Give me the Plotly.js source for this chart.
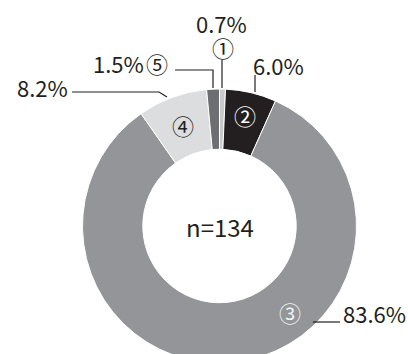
<!DOCTYPE html>
<html><head><meta charset="utf-8">
<script src="https://cdn.plot.ly/plotly-3.0.1.min.js"></script>
<style>html,body{margin:0;padding:0;width:408px;height:354px;overflow:hidden;background:#fff}#chart{width:408px;height:370px}</style>
</head><body><div id="chart"></div>
<script>
const categories = ['①','②','③','④','⑤'];
const values = [0.7, 6.0, 83.6, 8.2, 1.5];
const pctLabels = ['0.7%','6.0%','83.6%','8.2%','1.5%'];
const sampleLabel = 'n=134';
const colors = ['#c8c9cb','#231f20','#939598','#dcddde','#6d6e71'];

const W = 408, H = 370;
const px = x => x / W, py = y => 1 - y / H;
const cx = 219.5, cy = 226, R = 137;
const dark = '#231f20';

const trace = {
  type: 'pie', labels: categories, values: values, sort: false,
  direction: 'clockwise', rotation: 0, hole: 0.56,
  marker: {colors: colors, line: {color: '#ffffff', width: 1}},
  textinfo: 'none', hoverinfo: 'none',
  domain: {x: [px(cx - R), px(cx + R)], y: [py(cy + R), py(cy - R)]}
};

function ann(text, x, y, size, color) {
  return {text: text, x: px(x), y: py(y), xref: 'paper', yref: 'paper',
    showarrow: false, xanchor: 'center', yanchor: 'middle',
    font: {family: 'Noto Sans CJK JP', size: size, color: color || dark}};
}
const annotations = [
  ann(pctLabels[0], 222, 23, 22), ann(categories[0], 223, 47, 22),
  ann(pctLabels[4], 118, 63, 22), ann(categories[4], 157, 63, 22),
  ann(pctLabels[3], 42, 87, 22),
  ann(pctLabels[1], 278, 65, 22),
  ann(categories[1], 245, 115, 22, '#ffffff'),
  ann(categories[3], 183, 125, 22),
  ann(categories[2], 290, 312, 22, '#f2f2f2'),
  ann(pctLabels[2], 374, 313, 22),
  ann(sampleLabel, 220, 227, 24)
];
function path(pts) {
  return {type: 'path', xref: 'paper', yref: 'paper',
    path: pts.map((p, i) => (i ? 'L' : 'M') + px(p[0]) + ',' + py(p[1])).join(' '),
    line: {color: dark, width: 1.2}};
}
const shapes = [
  path([[222, 60], [222, 88]]),
  path([[175, 70], [213, 70], [213, 88]]),
  path([[72, 92], [159, 92], [167, 97]]),
  path([[255, 75], [255, 92]]),
  path([[313, 322], [340, 322]])
];
Plotly.newPlot('chart', [trace], {
  width: W, height: H, margin: {l: 0, r: 0, t: 0, b: 0}, showlegend: false,
  annotations: annotations, shapes: shapes
}, {displayModeBar: false}).then(() => {});
</script></body></html>
